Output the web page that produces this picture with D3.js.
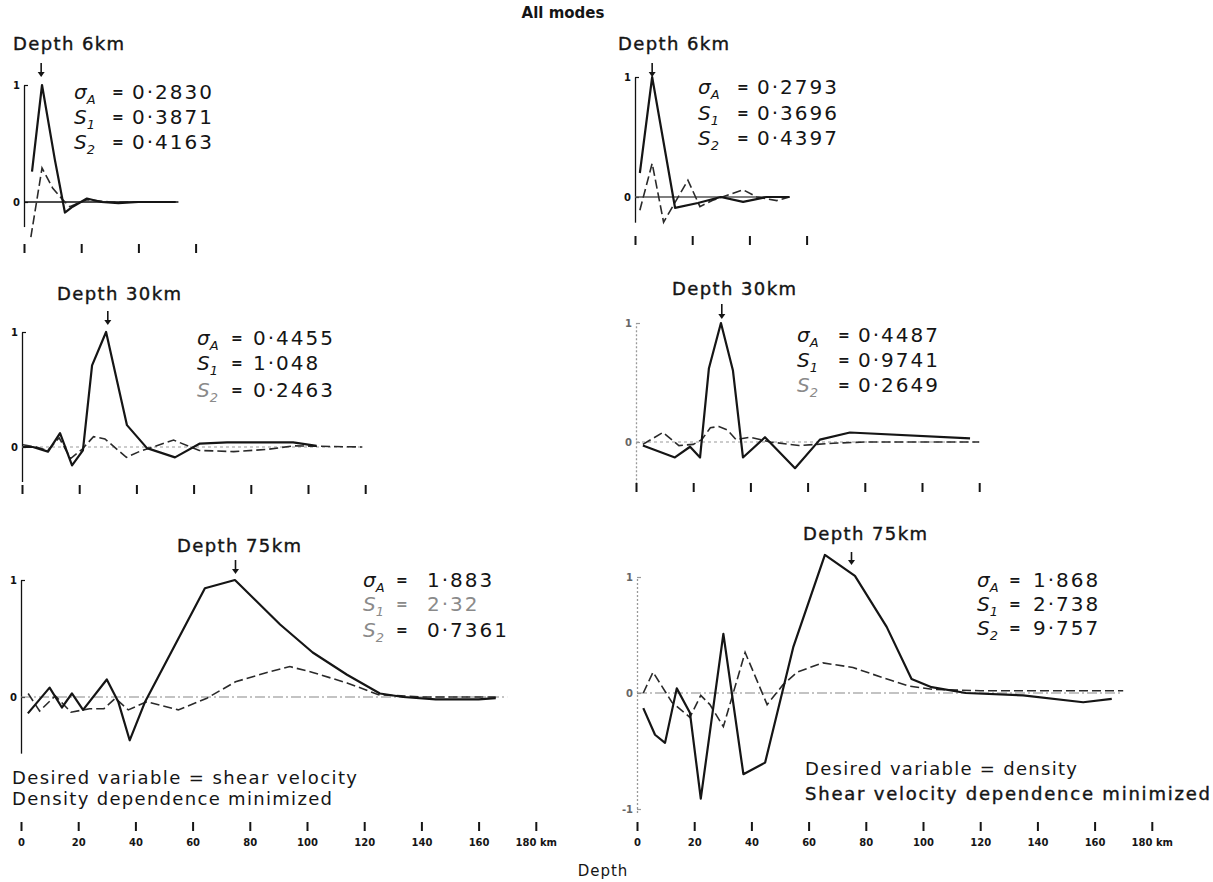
<!DOCTYPE html>
<html><head><meta charset="utf-8">
<script src="https://cdn.jsdelivr.net/npm/d3@7"></script>
<style>
body{margin:0;background:#fff}
svg{display:block;background:#fff}
text{font-family:"DejaVu Sans",sans-serif;fill:#151515}
</style>
</head><body>
<svg id="c" width="1213" height="882"></svg>
<script>
// ---------------- DATA (depth km, normalised kernel value) ----------------
const depth6LeftSolid  = [[2.8,0.26],[6.3,1.0],[10.8,0.36],[12.6,0.13],[14.3,-0.09],[17,-0.04],[22,0.03],[27,0.0],[33,-0.01],[40,0.0],[53,0.0]];
const depth6LeftDashed = [[2.4,-0.30],[6.3,0.29],[10,0.12],[13.5,0.02],[16,-0.04],[22,0.02],[30,0.0],[53,0.0]];
const depth6RightSolid  = [[1.7,0.2],[6,1.0],[14,-0.09],[22,-0.05],[30,0.0],[37.8,-0.04],[46,0.0],[54,0.0]];
const depth6RightDashed = [[1.7,-0.11],[6,0.28],[10,-0.21],[18.5,0.14],[22.7,-0.08],[27,-0.03],[33,0.02],[37.8,0.06],[42.6,0.0],[49.6,-0.03],[54,0.0]];
const depth30LeftSolid  = [[0.3,0],[3.8,0],[9.1,-0.04],[13.3,0.12],[17.5,-0.16],[21.3,-0.03],[24.5,0.71],[29.4,1.0],[36.7,0.19],[43.7,-0.01],[53.5,-0.09],[62.2,0.03],[71.7,0.04],[94.8,0.04],[103,0.01]];
const depth30LeftDashed = [[0.3,0.02],[5,0.0],[9,-0.03],[13,0.08],[17,-0.1],[21,-0.02],[25,0.09],[29,0.07],[36.5,-0.09],[41,-0.04],[53,0.06],[62,-0.03],[74,-0.04],[86,-0.02],[95,0.01],[119,0.0]];
const depth30RightSolid  = [[2.4,-0.03],[13.6,-0.13],[18.9,-0.04],[22.4,-0.13],[25.5,0.62],[29.7,1.0],[33.9,0.6],[37.4,-0.13],[45.1,0.04],[55.6,-0.22],[64.3,0.02],[74.8,0.08],[116.8,0.03]];
const depth30RightDashed = [[2.4,-0.02],[9.4,0.08],[15,-0.03],[20,-0.02],[23,0.02],[26,0.12],[29,0.13],[32,0.1],[35,0.02],[40,0.04],[47,0.0],[57,-0.03],[69,-0.01],[80,0.0],[120,0.0]];
const depth75LeftSolid  = [[2.4,-0.14],[10,0.08],[14.3,-0.09],[17.8,0.03],[21.7,-0.11],[30,0.15],[34,-0.04],[38,-0.37],[43.4,-0.04],[64.3,0.93],[74.8,1.0],[90.6,0.62],[102,0.38],[114,0.19],[125.5,0.03],[133.6,0.0],[145,-0.02],[160,-0.02],[166,-0.01]];
const depth75LeftDashed = [[2.5,0.03],[6.5,-0.12],[12,0.01],[17.5,-0.13],[24,-0.10],[29,-0.10],[33,-0.01],[37.5,-0.11],[44,-0.04],[55,-0.11],[65,-0.01],[75,0.13],[86,0.21],[94,0.26],[102,0.21],[114,0.12],[125,0.02],[140,0.0],[166,0.0]];
const depth75RightSolid  = [[2.2,-0.13],[6.3,-0.36],[9.8,-0.43],[13.9,0.04],[18.5,-0.17],[22.3,-0.91],[30.2,0.51],[37.2,-0.70],[44.8,-0.60],[54.7,0.40],[65.7,1.19],[76.2,1.01],[87.3,0.57],[96,0.12],[103,0.05],[115,0.0],[135,-0.02],[156,-0.08],[166,-0.05]];
const depth75RightDashed = [[2.2,0.0],[5.6,0.18],[12.2,-0.08],[18.5,-0.21],[22.3,-0.02],[25.5,-0.10],[30.2,-0.29],[37.8,0.35],[45.5,-0.10],[51,0.07],[56,0.18],[65,0.26],[75.5,0.22],[85,0.14],[95,0.06],[104,0.03],[120,0.02],[170,0.02]];

const targetDepths = [6, 30, 75];
const statSymbols = [["σ","A"],["S","1"],["S","2"]];
const stats6Left   = ["0·2830","0·3871","0·4163"];
const stats6Right  = ["0·2793","0·3696","0·4397"];
const stats30Left  = ["0·4455","1·048","0·2463"];
const stats30Right = ["0·4487","0·9741","0·2649"];
const stats75Left  = ["1·883","2·32","0·7361"];
const stats75Right = ["1·868","2·738","9·757"];

const ticks6  = [0,20,40,60];
const ticks30 = [0,20,40,60,80,100,120];
const depthTicks = [0,20,40,60,80,100,120,140,160,180];
const captionLeft  = ["Desired variable = shear velocity","Density dependence minimized"];
const captionRight = ["Desired variable = density","Shear velocity dependence minimized"];

// ---------------- DRAWING ----------------
const svg = d3.select("#c");
const K = 2.86; // px per km
const INK = "#151515";
const GREY = "#8a8a8a";

function panel(o){
  const x = d3.scaleLinear().domain([0,180]).range([o.x0, o.x0 + 180*K]);
  const y = d3.scaleLinear().domain([0,1]).range([o.yZero, o.yOne]);
  const g = svg.append("g");

  // y axis
  const yAx = y.copy().domain([o.yMin, 1]).range([y(o.yMin), y(1)]);
  const ya = g.append("g").attr("transform",`translate(${o.x0},0)`)
    .call(d3.axisLeft(yAx).tickValues(o.yTicks).tickSize(-4).tickSizeOuter(0).tickPadding(4)
      .tickFormat(d => d===-1 ? "-1" : d3.format("d")(d)));
  ya.select(".domain").attr("stroke", o.axisColor).attr("stroke-width",1.3)
    .attr("stroke-dasharray", o.axisDash || null);
  ya.selectAll(".tick line").attr("stroke", o.axisColor).attr("stroke-width",1.2);
  ya.selectAll(".tick text").attr("font-size",10).attr("font-weight","bold")
    .style("font-family","DejaVu Sans").style("fill", o.axisColor==="#111"?"#111":"#666");

  // zero line
  g.append("line").attr("x1",x(0)).attr("x2",x(o.zeroEnd)).attr("y1",y(0)).attr("y2",y(0))
    .attr("stroke",o.zeroColor).attr("stroke-width",o.zeroWidth).attr("stroke-dasharray",o.zeroDash||null);

  // x ticks (no labels)
  if(o.xTicks){
    const xa = g.append("g").attr("transform",`translate(0,${o.tickY})`)
      .call(d3.axisBottom(x).tickValues(o.xTicks).tickSize(9).tickFormat(""));
    xa.select(".domain").remove();
    xa.selectAll(".tick line").attr("stroke",INK).attr("stroke-width",2);
  }

  const line = d3.line().x(d=>x(d[0])).y(d=>y(d[1]));
  g.append("path").datum(o.dashed).attr("d",line).attr("fill","none")
    .attr("stroke","#2a2a2a").attr("stroke-width",1.6).attr("stroke-dasharray","9,4");
  g.append("path").datum(o.solid).attr("d",line).attr("fill","none")
    .attr("stroke",INK).attr("stroke-width",2.2).attr("stroke-linejoin","round");

  // arrow at target depth
  const ax = x(o.depth);
  g.append("line").attr("x1",ax).attr("x2",ax).attr("y1",o.arrowTop).attr("y2",o.arrowBot-3)
    .attr("stroke",INK).attr("stroke-width",1.6);
  g.append("path").attr("d",`M${ax-3.5},${o.arrowBot-5}L${ax+3.5},${o.arrowBot-5}L${ax},${o.arrowBot}Z`).attr("fill",INK);

  // title
  g.append("text").attr("x",o.titleX).attr("y",o.titleY).attr("font-size",18)
    .attr("letter-spacing",1.4).attr("stroke",INK).attr("stroke-width",0.4)
    .text(`Depth ${o.depth}km`);

  // stats block
  o.stats.forEach((v,i)=>{
    const grey = (o.greyLines||[]).includes(i);
    const greySym = grey || (o.greySyms||[]).includes(i);
    const sy = o.statY[i];
    const t = g.append("text").attr("x",o.statX[0]).attr("y",sy).attr("font-size",20)
      .style("fill",greySym?GREY:INK);
    t.append("tspan").attr("font-style","italic").text(statSymbols[i][0]);
    t.append("tspan").attr("font-size",13).attr("dy",5).attr("font-style","italic").text(statSymbols[i][1]);
    g.append("text").attr("x",o.statX[1]).attr("y",sy-2).attr("font-size",14).attr("font-weight","bold")
      .style("fill",grey?GREY:INK).text("=");
    g.append("text").attr("x",o.statX[2]).attr("y",sy).attr("font-size",20).attr("letter-spacing",2)
      .style("fill",grey?GREY:INK).text(v);
  });
  return x;
}

// top-left 6 km
panel({x0:24,yZero:202,yOne:85,yMin:-0.21,yTicks:[0,1],axisColor:"#111",
  zeroEnd:54,zeroColor:"#111",zeroWidth:1.4,xTicks:ticks6,tickY:244,
  solid:depth6LeftSolid,dashed:depth6LeftDashed,depth:targetDepths[0],arrowTop:63,arrowBot:77,
  titleX:13,titleY:50,stats:stats6Left,statX:[74,112,132],statY:[99,124,149]});
// top-right 6 km
panel({x0:635,yZero:197,yOne:77,yMin:-0.21,yTicks:[0,1],axisColor:"#111",
  zeroEnd:54,zeroColor:"#555",zeroWidth:1.3,xTicks:ticks6,tickY:236,
  solid:depth6RightSolid,dashed:depth6RightDashed,depth:targetDepths[0],arrowTop:63,arrowBot:77,
  titleX:618,titleY:50,stats:stats6Right,statX:[698,737,757],statY:[94,120,145]});
// middle-left 30 km
panel({x0:22,yZero:447,yOne:332,yMin:-0.3,yTicks:[0,1],axisColor:"#111",
  zeroEnd:119,zeroColor:"#999",zeroWidth:1.2,zeroDash:"3,3",xTicks:ticks30,tickY:485,
  solid:depth30LeftSolid,dashed:depth30LeftDashed,depth:targetDepths[1],arrowTop:311,arrowBot:325,
  titleX:57,titleY:300,stats:stats30Left,statX:[197,231,253],statY:[345,370,397],greySyms:[2]});
// middle-right 30 km
panel({x0:636,yZero:442,yOne:323,yMin:-0.35,yTicks:[0,1],axisColor:"#999",axisDash:"2,2",
  zeroEnd:120,zeroColor:"#999",zeroWidth:1.2,zeroDash:"3,3",xTicks:ticks30,tickY:483,
  solid:depth30RightSolid,dashed:depth30RightDashed,depth:targetDepths[1],arrowTop:304,arrowBot:319,
  titleX:672,titleY:295,stats:stats30Right,statX:[797,838,858],statY:[342,367,392],greySyms:[2]});
// bottom-left 75 km
const xBL = panel({x0:21,yZero:697,yOne:580,yMin:-0.48,yTicks:[0,1],axisColor:"#111",
  zeroEnd:170,zeroColor:"#888",zeroWidth:1.2,zeroDash:"10,3,2,3",
  solid:depth75LeftSolid,dashed:depth75LeftDashed,depth:targetDepths[2],arrowTop:560,arrowBot:574,
  titleX:177,titleY:552,stats:stats75Left,statX:[363,396,427],statY:[587,611,637],greyLines:[1],greySyms:[2]});
// bottom-right 75 km
const xBR = panel({x0:637,yZero:693,yOne:577,yMin:-1.03,yTicks:[-1,0,1],axisColor:"#999",axisDash:"2,2",
  zeroEnd:169,zeroColor:"#888",zeroWidth:1.2,zeroDash:"10,3,2,3",
  solid:depth75RightSolid,dashed:depth75RightDashed,depth:targetDepths[2],arrowTop:552,arrowBot:565,
  titleX:803,titleY:540,stats:stats75Right,statX:[977,1009,1033],statY:[587,611,635]});

// bottom depth axes
[xBL,xBR].forEach(x=>{
  const a = svg.append("g").attr("transform","translate(0,822)")
    .call(d3.axisBottom(x).tickValues(depthTicks).tickSize(9).tickPadding(8)
      .tickFormat(d => d===180 ? "180 km" : d));
  a.select(".domain").remove();
  a.selectAll(".tick line").attr("stroke",INK).attr("stroke-width",2);
  a.selectAll(".tick text").attr("font-size",10).attr("font-weight","bold").style("font-family","DejaVu Sans").style("fill",INK);
});

// captions
captionLeft.forEach((s,i)=>{
  svg.append("text").attr("x",12).attr("y",784+i*21).attr("font-size",18)
    .attr("textLength",[345,320][i]).attr("lengthAdjust","spacing").text(s);
});
captionRight.forEach((s,i)=>{
  svg.append("text").attr("x",805).attr("y",775+i*25).attr("font-size",18)
    .attr("textLength",[272,405][i]).attr("lengthAdjust","spacing")
    .attr("stroke", i===1?INK:null).attr("stroke-width", i===1?0.4:null).text(s);
});

svg.append("text").attr("x",563).attr("y",18).attr("text-anchor","middle")
  .attr("font-size",15).attr("font-weight","bold").text("All modes");
svg.append("text").attr("x",603).attr("y",876).attr("text-anchor","middle")
  .attr("font-size",15).attr("letter-spacing",1).text("Depth");
</script>
</body></html>
